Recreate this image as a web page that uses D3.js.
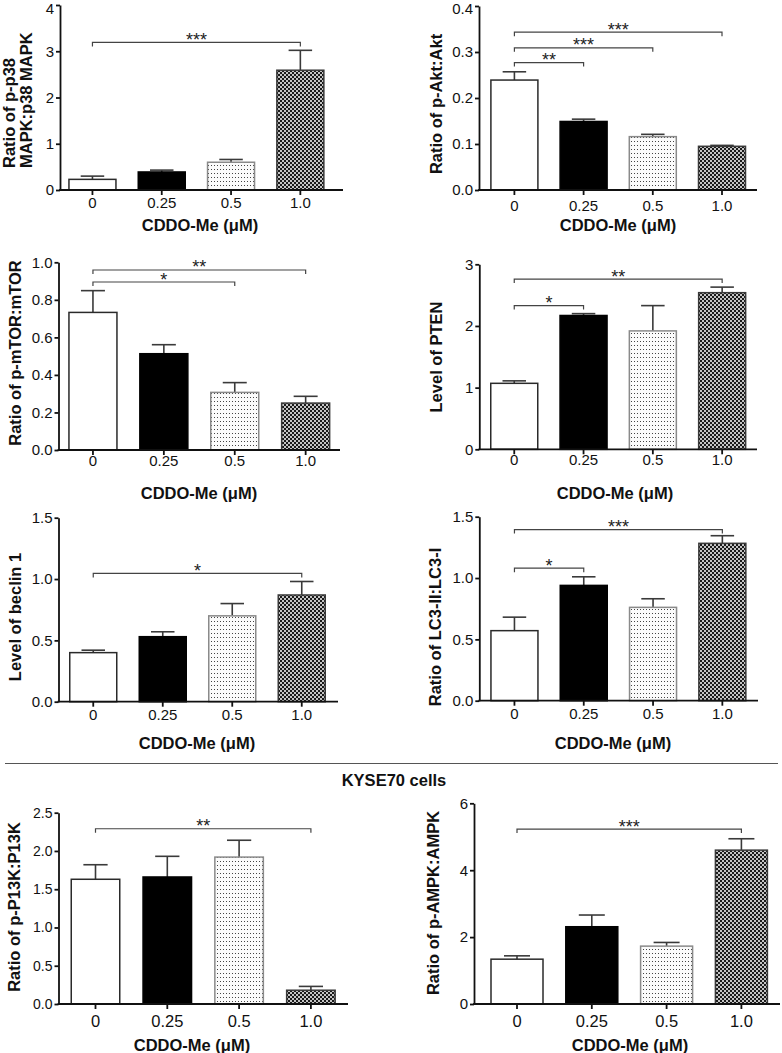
<!DOCTYPE html>
<html>
<head>
<meta charset="utf-8">
<script src="https://cdn.jsdelivr.net/npm/d3@7"></script>
<style>
  html, body { margin: 0; padding: 0; background: #fff; }
  svg { display: block; font-family: "Liberation Sans", Arial, Helvetica, sans-serif; }
</style>
</head>
<body>
<svg id="chart" width="782" height="1053"></svg>
<script>
// ---------------- data ----------------
const categories = ["0", "0.25", "0.5", "1.0"];
const xAxisTitle = "CDDO-Me (\u03bcM)";
const sectionTitle = "KYSE70 cells";

const p38Mean = [0.23, 0.39, 0.60, 2.59];
const p38Err  = [0.07, 0.04, 0.06, 0.43];
const p38Ticks = [0, 1, 2, 3, 4];
const p38Sig = [{ from: 0, to: 3, at: 3.19, label: "***" }];

const aktMean = [0.239, 0.149, 0.116, 0.095];
const aktErr  = [0.018, 0.005, 0.005, 0.002];
const aktTicks = [0, 0.1, 0.2, 0.3, 0.4];
const aktSig = [
  { from: 0, to: 3, at: 0.343, label: "***" },
  { from: 0, to: 2, at: 0.309, label: "***" },
  { from: 0, to: 1, at: 0.277, label: "**" }
];

const mtorMean = [0.733, 0.513, 0.307, 0.250];
const mtorErr  = [0.116, 0.048, 0.052, 0.036];
const mtorTicks = [0, 0.2, 0.4, 0.6, 0.8, 1.0];
const mtorSig = [
  { from: 0, to: 3, at: 0.959, label: "**" },
  { from: 0, to: 2, at: 0.895, label: "*" }
];

const ptenMean = [1.07, 2.17, 1.92, 2.54];
const ptenErr  = [0.04, 0.03, 0.41, 0.09];
const ptenTicks = [0, 1, 2, 3];
const ptenSig = [
  { from: 0, to: 3, at: 2.76, label: "**" },
  { from: 0, to: 1, at: 2.33, label: "*" }
];

const beclinMean = [0.40, 0.53, 0.70, 0.87];
const beclinErr  = [0.02, 0.04, 0.10, 0.11];
const beclinTicks = [0, 0.5, 1.0, 1.5];
const beclinSig = [{ from: 0, to: 3, at: 1.046, label: "*" }];

const lc3Mean = [0.571, 0.94, 0.761, 1.283];
const lc3Err  = [0.11, 0.07, 0.07, 0.062];
const lc3Ticks = [0, 0.5, 1.0, 1.5];
const lc3Sig = [
  { from: 0, to: 3, at: 1.395, label: "***" },
  { from: 0, to: 1, at: 1.08, label: "*" }
];

const pi3kMean = [1.63, 1.66, 1.92, 0.18];
const pi3kErr  = [0.19, 0.27, 0.22, 0.05];
const pi3kTicks = [0, 0.5, 1.0, 1.5, 2.0, 2.5];
const pi3kSig = [{ from: 0, to: 3, at: 2.29, label: "**" }];

const ampkMean = [1.34, 2.31, 1.73, 4.60];
const ampkErr  = [0.10, 0.35, 0.11, 0.34];
const ampkTicks = [0, 2, 4, 6];
const ampkSig = [{ from: 0, to: 3, at: 5.23, label: "***" }];

// ---------------- layout / panels ----------------
const panels = [
  { mean: p38Mean, err: p38Err, ticks: p38Ticks, sig: p38Sig, fmt: "d",
    ylabel: ["Ratio of p-p38", "MAPK:p38 MAPK"], ylabX: [15, 32], ylabY: 168, ylabAnchor: "start",
    axisX: 60, bandX0: 57.8, step: 69.3, barW: 47, axisEnd: 343, yTop: 5, yBottom: 190,
    xTickPad: 2, yTickFs: 15, xTickFs: 15, titleX: 200, titleY: 231 },
  { mean: aktMean, err: aktErr, ticks: aktTicks, sig: aktSig, fmt: ".1f",
    ylabel: ["Ratio of p-Akt:Akt"], ylabX: [441.5], ylabY: 104, ylabAnchor: "middle",
    axisX: 479, bandX0: 479.8, step: 69.2, barW: 47, axisEnd: 757, yTop: 6, yBottom: 190,
    xTickPad: 5, yTickFs: 15, xTickFs: 15, titleX: 618, titleY: 231 },
  { mean: mtorMean, err: mtorErr, ticks: mtorTicks, sig: mtorSig, fmt: ".1f",
    ylabel: ["Ratio of p-mTOR:mTOR"], ylabX: [21], ylabY: 353, ylabAnchor: "middle",
    axisX: 58.5, bandX0: 57.5, step: 70.9, barW: 48, axisEnd: 340, yTop: 262.3, yBottom: 450,
    xTickPad: 0, yTickFs: 15, xTickFs: 15, titleX: 199, titleY: 499 },
  { mean: ptenMean, err: ptenErr, ticks: ptenTicks, sig: ptenSig, fmt: "d",
    ylabel: ["Level of PTEN"], ylabX: [441.5], ylabY: 357, ylabAnchor: "middle",
    axisX: 479.3, bandX0: 479.6, step: 69.3, barW: 47, axisEnd: 757, yTop: 264.3, yBottom: 449.3,
    xTickPad: 0, yTickFs: 15, xTickFs: 15, titleX: 615, titleY: 499 },
  { mean: beclinMean, err: beclinErr, ticks: beclinTicks, sig: beclinSig, fmt: ".1f",
    ylabel: ["Level of beclin 1"], ylabX: [20.5], ylabY: 617, ylabAnchor: "middle",
    axisX: 58.5, bandX0: 58.5, step: 69.5, barW: 47, axisEnd: 338, yTop: 517.7, yBottom: 701.7,
    xTickPad: 3, yTickFs: 15, xTickFs: 15, titleX: 197, titleY: 749 },
  { mean: lc3Mean, err: lc3Err, ticks: lc3Ticks, sig: lc3Sig, fmt: ".1f",
    ylabel: ["Ratio of LC3-II:LC3-I"], ylabX: [441], ylabY: 627, ylabAnchor: "middle",
    axisX: 479.3, bandX0: 479.8, step: 69.3, barW: 47, axisEnd: 758, yTop: 516.7, yBottom: 700.7,
    xTickPad: 3, yTickFs: 15, xTickFs: 15, titleX: 613, titleY: 749 },
  { mean: pi3kMean, err: pi3kErr, ticks: pi3kTicks, sig: pi3kSig, fmt: ".1f",
    ylabel: ["Ratio of p-P13K:P13K"], ylabX: [20], ylabY: 907, ylabAnchor: "middle",
    axisX: 58.5, bandX0: 59.6, step: 71.8, barW: 48.5, axisEnd: 348, yTop: 812.7, yBottom: 1004,
    xTickPad: 6, yTickFs: 14, xTickFs: 16.5, titleX: 192, titleY: 1051 },
  { mean: ampkMean, err: ampkErr, ticks: ampkTicks, sig: ampkSig, fmt: "d",
    ylabel: ["Ratio of p-AMPK:AMPK"], ylabX: [439], ylabY: 903, ylabAnchor: "middle",
    axisX: 474, bandX0: 479.6, step: 74.8, barW: 52, axisEnd: 780, yTop: 803.3, yBottom: 1004,
    xTickPad: 6, yTickFs: 15, xTickFs: 16.5, titleX: 630, titleY: 1051 }
];

// ---------------- drawing ----------------
const svg = d3.select("#chart");
const defs = svg.append("defs");

// dotted pattern (0.5 µM)
const dots = defs.append("pattern").attr("id", "dots")
  .attr("patternUnits", "userSpaceOnUse").attr("width", 3).attr("height", 4);
dots.append("rect").attr("width", 3).attr("height", 4).attr("fill", "#fbfbfb");
dots.append("rect").attr("x", 1).attr("y", 1).attr("width", 1).attr("height", 1).attr("fill", "#444");

// checker pattern (1.0 µM)
const checks = defs.append("pattern").attr("id", "checks")
  .attr("patternUnits", "userSpaceOnUse").attr("width", 4).attr("height", 4);
checks.append("rect").attr("width", 4).attr("height", 4).attr("fill", "#c4c4c4");
checks.append("rect").attr("x", 0).attr("y", 0).attr("width", 2).attr("height", 2).attr("fill", "#1a1a1a");
checks.append("rect").attr("x", 2).attr("y", 2).attr("width", 2).attr("height", 2).attr("fill", "#1a1a1a");

const barFill = ["#ffffff", "#000000", "url(#dots)", "url(#checks)"];
const barStroke = ["#2a2a2a", "#000000", "#8a8a8a", "#3a3a3a"];

function drawPanel(cfg) {
  const g = svg.append("g");
  const n = categories.length;
  const pi = 1 - cfg.barW / cfg.step;
  const x = d3.scaleBand().domain(categories)
    .range([cfg.bandX0, cfg.bandX0 + cfg.step * n])
    .paddingInner(pi).paddingOuter(pi / 2);
  const y = d3.scaleLinear().domain([0, cfg.ticks[cfg.ticks.length - 1]])
    .range([cfg.yBottom, cfg.yTop]);
  const data = categories.map((c, i) => ({ c, i, m: cfg.mean[i], e: cfg.err[i] }));

  // error bars (upper only)
  const eb = g.append("g").attr("stroke", "#3a3a3a").attr("stroke-width", 1.6).attr("fill", "none");
  eb.selectAll("line.v").data(data).join("line")
    .attr("x1", d => x(d.c) + x.bandwidth() / 2).attr("x2", d => x(d.c) + x.bandwidth() / 2)
    .attr("y1", d => y(d.m)).attr("y2", d => y(d.m + d.e));
  eb.selectAll("line.h").data(data).join("line")
    .attr("x1", d => x(d.c) + x.bandwidth() / 2 - x.bandwidth() * 0.25)
    .attr("x2", d => x(d.c) + x.bandwidth() / 2 + x.bandwidth() * 0.25)
    .attr("y1", d => y(d.m + d.e)).attr("y2", d => y(d.m + d.e));

  // bars
  g.append("g").selectAll("rect").data(data).join("rect")
    .attr("x", d => x(d.c))
    .attr("y", d => y(d.m))
    .attr("width", x.bandwidth())
    .attr("height", d => y(0) - y(d.m))
    .attr("fill", d => barFill[d.i])
    .attr("stroke", d => barStroke[d.i])
    .attr("stroke-width", 1.5);

  // y axis
  g.append("g").attr("transform", `translate(${cfg.axisX},0)`)
    .call(d3.axisLeft(y).tickValues(cfg.ticks).tickFormat(d3.format(cfg.fmt))
      .tickSize(4).tickSizeOuter(0).tickPadding(2))
    .call(a => a.selectAll("path,line").attr("stroke", "#111").attr("stroke-width", 1.8))
    .call(a => a.selectAll("text").attr("font-size", cfg.yTickFs).attr("fill", "#111")
      .attr("font-family", "Liberation Sans, Arial, sans-serif"))
    .call(a => a.selectAll(".tick").each(function (d) {
      // keep the top label inside the page
      if (y(d) < 9) d3.select(this).select("text").attr("y", 9 - y(d));
    }));

  // x axis
  g.append("g").attr("transform", `translate(0,${cfg.yBottom})`)
    .call(d3.axisBottom(x).tickSize(5).tickSizeOuter(0).tickPadding(cfg.xTickPad))
    .call(a => a.select(".domain").attr("d", `M${cfg.axisX - 0.9},0H${cfg.axisEnd}`))
    .call(a => a.selectAll("path,line").attr("stroke", "#111").attr("stroke-width", 1.8))
    .call(a => a.selectAll("text").attr("font-size", cfg.xTickFs).attr("fill", "#111")
      .attr("font-family", "Liberation Sans, Arial, sans-serif"));

  // significance brackets
  const sg = g.append("g");
  cfg.sig.forEach(s => {
    const x1 = x(categories[s.from]) + x.bandwidth() / 2;
    const x2 = x(categories[s.to]) + x.bandwidth() / 2;
    const yy = y(s.at);
    sg.append("path")
      .attr("d", `M${x1},${yy + 4}V${yy}H${x2}V${yy + 4}`)
      .attr("fill", "none").attr("stroke", "#444").attr("stroke-width", 1.2);
    sg.append("text").attr("x", (x1 + x2) / 2).attr("y", yy + 3.5)
      .attr("text-anchor", "middle").attr("font-size", 18).attr("fill", "#222")
      .text(s.label);
  });

  // y label
  cfg.ylabel.forEach((t, k) => {
    g.append("text")
      .attr("transform", `translate(${cfg.ylabX[k]},${cfg.ylabY}) rotate(-90)`)
      .attr("text-anchor", cfg.ylabAnchor)
      .attr("font-size", 16.5).attr("font-weight", "bold").attr("fill", "#111")
      .text(t);
  });

  // x label
  g.append("text").attr("x", cfg.titleX).attr("y", cfg.titleY)
    .attr("text-anchor", "middle").attr("font-size", 16.5).attr("font-weight", "bold")
    .attr("fill", "#111").text(xAxisTitle);
}

panels.forEach(drawPanel);

// separator and section title
svg.append("line").attr("x1", 5).attr("x2", 778).attr("y1", 763.5).attr("y2", 763.5)
  .attr("stroke", "#555").attr("stroke-width", 1.2);
svg.append("text").attr("x", 394).attr("y", 786).attr("text-anchor", "middle")
  .attr("font-size", 16.5).attr("font-weight", "bold").attr("fill", "#111").text(sectionTitle);
</script>
</body>
</html>
